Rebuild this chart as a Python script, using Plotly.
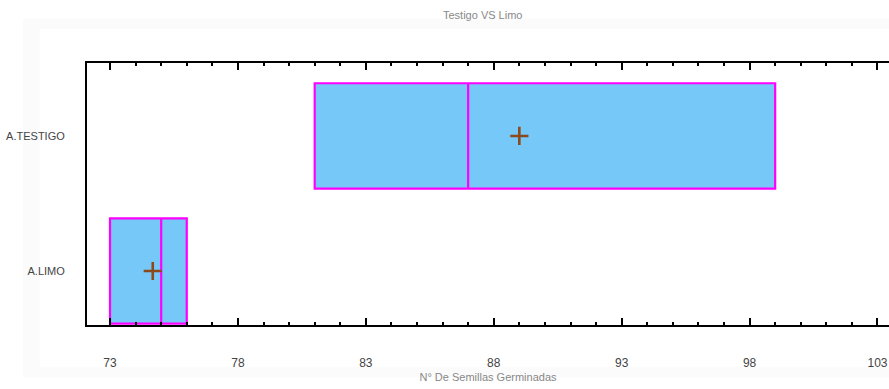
import plotly.graph_objects as go

# Summary statistics of germinated seeds per treatment
groups = ["A.LIMO", "A.TESTIGO"]
q1 = [73, 81]
median = [75, 87]
q3 = [76, 99]
lower = [73, 81]
upper = [76, 99]
means = [74.67, 89]

x_ticks = [73, 78, 83, 88, 93, 98, 103]

FONT = "Liberation Sans Narrow, Arial Narrow, Liberation Sans, sans-serif"

fig = go.Figure()

fig.add_trace(go.Box(
    y=groups,
    q1=q1, median=median, q3=q3,
    lowerfence=lower, upperfence=upper,
    orientation="h",
    width=0.78,
    fillcolor="#76C8F9",
    line=dict(color="#FF00FF", width=2.2),
    whiskerwidth=0,
    boxpoints=False,
    hoverinfo="skip",
    showlegend=False,
))

fig.add_trace(go.Scatter(
    x=means, y=groups,
    mode="markers",
    marker=dict(symbol="cross-thin", size=13,
                line=dict(color="#8B4A1C", width=2.6), color="#8B4A1C"),
    showlegend=False,
    hoverinfo="skip",
))

# faint panel behind the chart
fig.add_shape(type="rect", xref="paper", yref="paper", layer="below",
              x0=-0.08, x1=1.0, y0=-0.20, y1=1.17,
              line=dict(width=0), fillcolor="#fbfbfb")
fig.add_shape(type="rect", xref="paper", yref="paper", layer="below",
              x0=-0.059, x1=1.0, y0=-0.16, y1=1.13,
              line=dict(width=0), fillcolor="#ffffff")

fig.update_layout(
    width=889, height=389,
    margin=dict(l=87, r=0, t=63, b=64),
    paper_bgcolor="white",
    plot_bgcolor="white",
    title=dict(text="Testigo VS Limo", x=0.543, xanchor="center",
               y=0.962, yanchor="middle",
               font=dict(family=FONT, size=11, color="#888888")),
    xaxis=dict(
        range=[72.1, 103.45],
        tickvals=x_ticks,
        ticks="inside", ticklen=7, tickwidth=2, tickcolor="black",
        minor=dict(dtick=1, tick0=73, ticks="inside", ticklen=3,
                   tickwidth=2, tickcolor="black"),
        showline=True, linecolor="black", linewidth=2,
        mirror="allticks",
        showgrid=False, zeroline=False,
        ticklabelstandoff=26,
        tickfont=dict(family=FONT, size=12, color="#444444"),
        title=dict(text="N° De Semillas Germinadas", standoff=4,
                   font=dict(family=FONT, size=11, color="#888888")),
    ),
    yaxis=dict(
        type="category",
        categoryorder="array", categoryarray=groups,
        range=[-0.4, 1.54],
        showline=True, linecolor="black", linewidth=2,
        mirror=False, ticks="",
        showgrid=False, zeroline=False,
        ticklabelstandoff=18,
        tickfont=dict(family=FONT, size=11, color="#444444"),
    ),
)

fig.write_html("out.html")
